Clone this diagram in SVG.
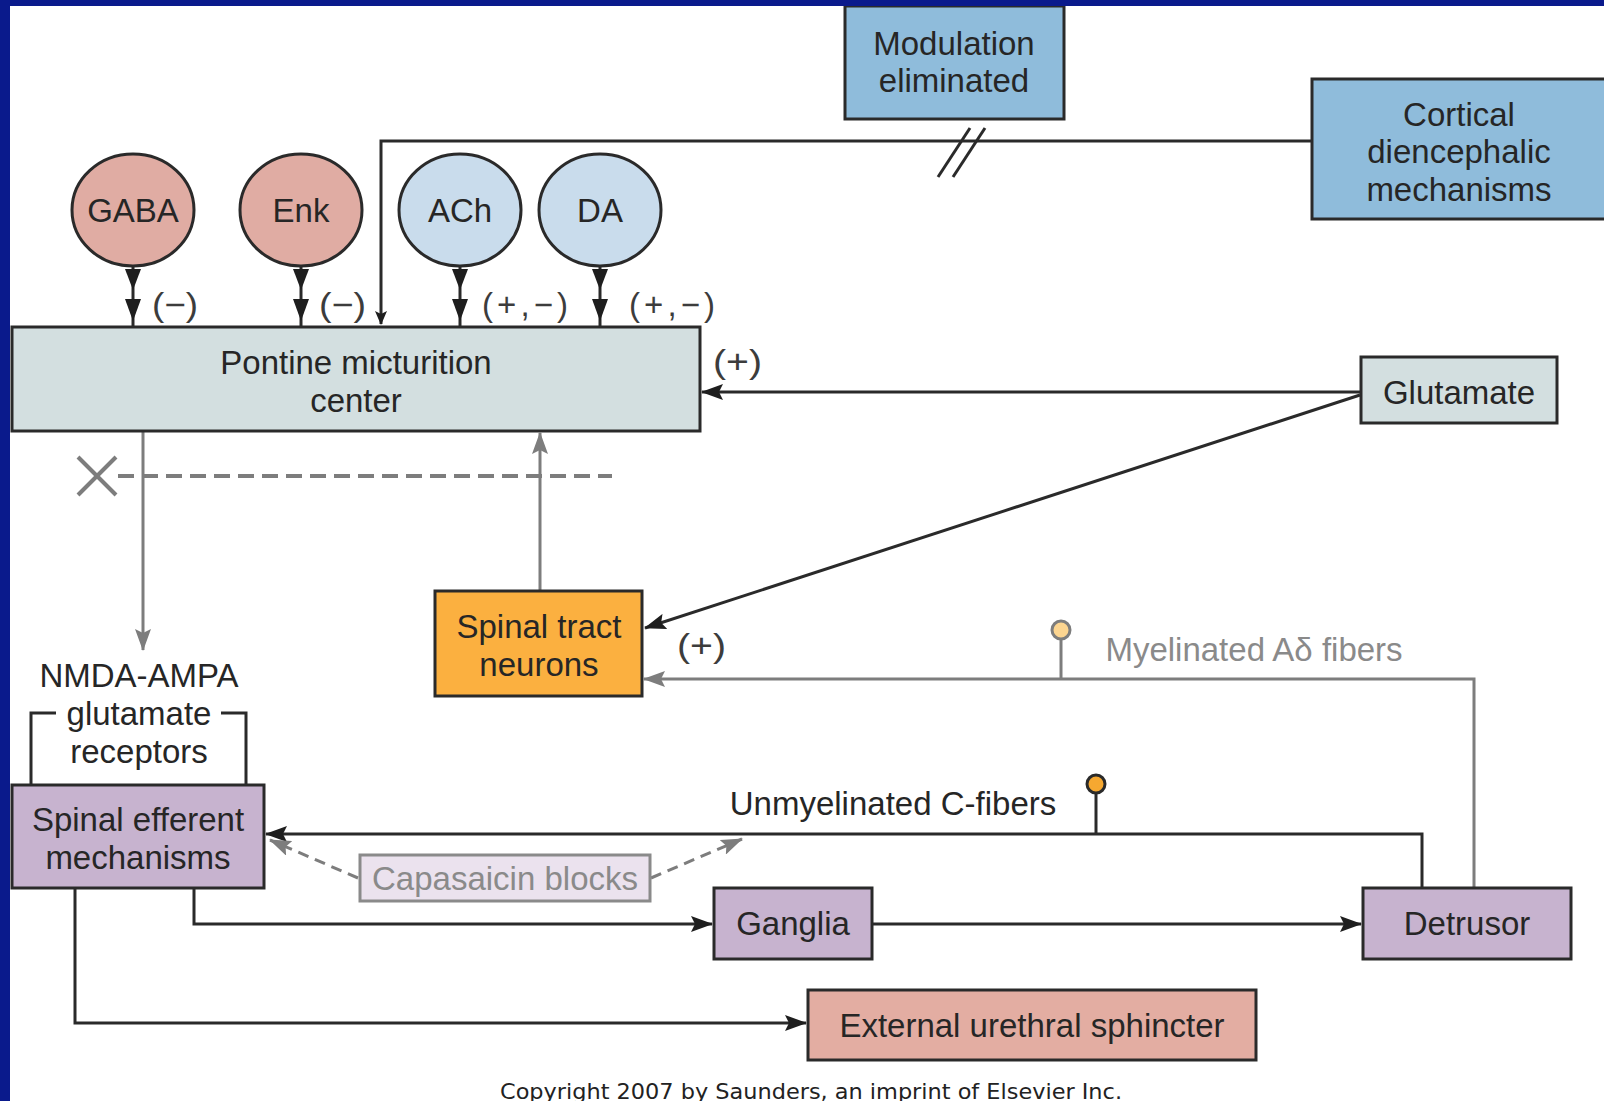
<svg xmlns="http://www.w3.org/2000/svg" width="1604" height="1101" viewBox="0 0 1604 1101">
  <defs>
    <style>
      .box { stroke: #2a2a2a; stroke-width: 3; }
      .t { font-family: "Liberation Sans", Arial, sans-serif; font-size: 33px; fill: #262626; text-anchor: middle; dominant-baseline: central; }
      .gt { fill: #8a8a8a; }
      .lbl { font-family: "Liberation Sans", Arial, sans-serif; font-size: 33px; fill: #3c3c3c; dominant-baseline: central; }
      .ln { stroke: #2a2a2a; stroke-width: 3; fill: none; }
      .gl { stroke: #7d7d7d; stroke-width: 3; fill: none; }
      .dash { stroke: #7d7d7d; stroke-width: 4; fill: none; stroke-dasharray: 16 8; }
      .dash2 { stroke: #7d7d7d; stroke-width: 3; fill: none; stroke-dasharray: 11 7; }
      .head { fill: #1e1e1e; }
      .pink { fill: #e0aca3; }
      .lblue { fill: #c9dcec; }
      .steel { fill: #8fbcdb; }
      .pale { fill: #d3dfe0; }
      .purple { fill: #c7b3cf; }
    </style>
    <marker id="ab" markerUnits="userSpaceOnUse" markerWidth="22" markerHeight="16" refX="21" refY="8" orient="auto">
      <path d="M0,0 L22,8 L0,16 L4,8 z" fill="#1e1e1e"/>
    </marker>
    <marker id="ag" markerUnits="userSpaceOnUse" markerWidth="22" markerHeight="16" refX="21" refY="8" orient="auto">
      <path d="M0,0 L22,8 L0,16 L4,8 z" fill="#7d7d7d"/>
    </marker>
    <marker id="as" markerUnits="userSpaceOnUse" markerWidth="14" markerHeight="12" refX="13" refY="6" orient="auto">
      <path d="M0,0 L14,6 L0,12 L3,6 z" fill="#1e1e1e"/>
    </marker>
  </defs>

  <rect x="0" y="0" width="1604" height="1101" fill="#ffffff"/>

  <g id="connectors">
    <!-- cortical to pontine -->
    <polyline class="ln" points="1312,141 381,141 381,324" marker-end="url(#as)"/>
    <line class="ln" x1="938" y1="177" x2="970" y2="128"/>
    <line class="ln" x1="953" y1="177" x2="985" y2="128"/>

    <!-- neurotransmitter double arrows -->
    <g>
      <line class="ln" x1="133" y1="266" x2="133" y2="326"/>
      <polygon class="head" points="125,269 141,269 133,290"/>
      <polygon class="head" points="125,299 141,299 133,321"/>
      <line class="ln" x1="301" y1="266" x2="301" y2="326"/>
      <polygon class="head" points="293,269 309,269 301,290"/>
      <polygon class="head" points="293,299 309,299 301,321"/>
      <line class="ln" x1="460" y1="266" x2="460" y2="326"/>
      <polygon class="head" points="452,269 468,269 460,290"/>
      <polygon class="head" points="452,299 468,299 460,321"/>
      <line class="ln" x1="600" y1="266" x2="600" y2="326"/>
      <polygon class="head" points="592,269 608,269 600,290"/>
      <polygon class="head" points="592,299 608,299 600,321"/>
    </g>
    <text class="lbl" x="152" y="304" textLength="46" lengthAdjust="spacingAndGlyphs">(−)</text>
    <text class="lbl" x="319" y="304" textLength="47" lengthAdjust="spacingAndGlyphs">(−)</text>
    <text class="lbl" x="482" y="304" textLength="86" lengthAdjust="spacing">(+,−)</text>
    <text class="lbl" x="629" y="304" textLength="86" lengthAdjust="spacing">(+,−)</text>

    <!-- glutamate to pontine and spinal tract -->
    <line class="ln" x1="1361" y1="392" x2="702" y2="392" marker-end="url(#ab)"/>
    <text class="lbl" x="713" y="361" textLength="49" lengthAdjust="spacingAndGlyphs">(+)</text>
    <line class="ln" x1="1360" y1="395" x2="645" y2="628" marker-end="url(#ab)"/>
    <text class="lbl" x="677" y="645" textLength="49" lengthAdjust="spacingAndGlyphs">(+)</text>

    <!-- spinal tract to pontine (gray) -->
    <line class="gl" x1="540" y1="591" x2="540" y2="433" marker-end="url(#ag)"/>
    <!-- pontine to NMDA (gray) -->
    <line class="gl" x1="143" y1="431" x2="143" y2="650" marker-end="url(#ag)"/>

    <!-- dashed blocked line with X -->
    <line class="dash" x1="118" y1="476" x2="612" y2="476"/>
    <line x1="78" y1="457" x2="116" y2="495" stroke="#7d7d7d" stroke-width="4"/>
    <line x1="116" y1="457" x2="78" y2="495" stroke="#7d7d7d" stroke-width="4"/>

    <!-- NMDA bracket -->
    <polyline class="ln" points="31,785 31,713 56,713" stroke-width="2.5"/>
    <polyline class="ln" points="221,713 246,713 246,785" stroke-width="2.5"/>

    <!-- Myelinated A-delta fibers (gray) -->
    <polyline class="gl" points="1474,888 1474,679 644,679" marker-end="url(#ag)"/>
    <line class="gl" x1="1061" y1="679" x2="1061" y2="639"/>
    <circle cx="1061" cy="630" r="9" fill="#fcd590" stroke="#7d7d7d" stroke-width="3"/>
    <text class="t gt" x="1254" y="649">Myelinated Aδ fibers</text>

    <!-- Unmyelinated C-fibers -->
    <polyline class="ln" points="1422,888 1422,834 266,834" marker-end="url(#ab)"/>
    <line class="ln" x1="1096" y1="834" x2="1096" y2="793"/>
    <circle cx="1096" cy="784" r="9" fill="#f6a830" stroke="#2a2a2a" stroke-width="3"/>
    <text class="t" x="893" y="803">Unmyelinated C-fibers</text>

    <!-- capsaicin dashed arrows -->
    <line class="dash2" x1="358" y1="878" x2="270" y2="840" marker-end="url(#ag)"/>
    <line class="dash2" x1="651" y1="878" x2="742" y2="839" marker-end="url(#ag)"/>

    <!-- efferent outputs -->
    <polyline class="ln" points="194,888 194,924 712,924" marker-end="url(#ab)"/>
    <line class="ln" x1="872" y1="924" x2="1361" y2="924" marker-end="url(#ab)"/>
    <polyline class="ln" points="75,888 75,1023 806,1023" marker-end="url(#ab)"/>
  </g>

  <g id="modulation">
    <rect class="box steel" x="845" y="6" width="219" height="113"/>
    <text class="t" x="954" y="43">Modulation</text>
    <text class="t" x="954" y="80">eliminated</text>
  </g>

  <g id="cortical">
    <rect class="box steel" x="1312" y="79" width="300" height="140"/>
    <text class="t" x="1459" y="114">Cortical</text>
    <text class="t" x="1459" y="151">diencephalic</text>
    <text class="t" x="1459" y="189">mechanisms</text>
  </g>

  <g id="gaba">
    <ellipse class="box pink" cx="133" cy="210" rx="61" ry="56"/>
    <text class="t" x="133" y="210">GABA</text>
  </g>
  <g id="enk">
    <ellipse class="box pink" cx="301" cy="210" rx="61" ry="56"/>
    <text class="t" x="301" y="210">Enk</text>
  </g>
  <g id="ach">
    <ellipse class="box lblue" cx="460" cy="210" rx="61" ry="56"/>
    <text class="t" x="460" y="210">ACh</text>
  </g>
  <g id="da">
    <ellipse class="box lblue" cx="600" cy="210" rx="61" ry="56"/>
    <text class="t" x="600" y="210">DA</text>
  </g>

  <g id="pontine">
    <rect class="box pale" x="12" y="327" width="688" height="104"/>
    <text class="t" x="356" y="362">Pontine micturition</text>
    <text class="t" x="356" y="400">center</text>
  </g>

  <g id="glutamate">
    <rect class="box pale" x="1361" y="357" width="196" height="66"/>
    <text class="t" x="1459" y="392">Glutamate</text>
  </g>

  <g id="spinal-tract">
    <rect class="box" x="435" y="591" width="207" height="105" fill="#fbb040"/>
    <text class="t" x="539" y="626">Spinal tract</text>
    <text class="t" x="539" y="664">neurons</text>
  </g>

  <g id="nmda">
    <text class="t" x="139" y="675">NMDA-AMPA</text>
    <text class="t" x="139" y="713">glutamate</text>
    <text class="t" x="139" y="751">receptors</text>
  </g>

  <g id="spinal-efferent">
    <rect class="box purple" x="12" y="785" width="252" height="103"/>
    <text class="t" x="138" y="819">Spinal efferent</text>
    <text class="t" x="138" y="857">mechanisms</text>
  </g>

  <g id="capsaicin">
    <rect x="360" y="855" width="290" height="46" fill="#ebe2ee" stroke="#8a8a8a" stroke-width="3"/>
    <text class="t gt" x="505" y="878">Capasaicin blocks</text>
  </g>

  <g id="ganglia">
    <rect class="box purple" x="714" y="888" width="158" height="71"/>
    <text class="t" x="793" y="923">Ganglia</text>
  </g>

  <g id="detrusor">
    <rect class="box purple" x="1363" y="888" width="208" height="71"/>
    <text class="t" x="1467" y="923">Detrusor</text>
  </g>

  <g id="sphincter">
    <rect class="box" x="808" y="990" width="448" height="70" fill="#e3ada2"/>
    <text class="t" x="1032" y="1025">External urethral sphincter</text>
  </g>

  <text x="811" y="1091" font-family="'DejaVu Sans Condensed', 'DejaVu Sans', sans-serif" font-stretch="condensed" font-size="22" fill="#222" text-anchor="middle" dominant-baseline="central" textLength="622" lengthAdjust="spacingAndGlyphs">Copyright 2007 by Saunders, an imprint of Elsevier Inc.</text>

  <!-- slide border -->
  <rect x="0" y="0" width="1604" height="6" fill="#0a1a8c"/>
  <rect x="0" y="0" width="10" height="1101" fill="#0a1a8c"/>
</svg>
